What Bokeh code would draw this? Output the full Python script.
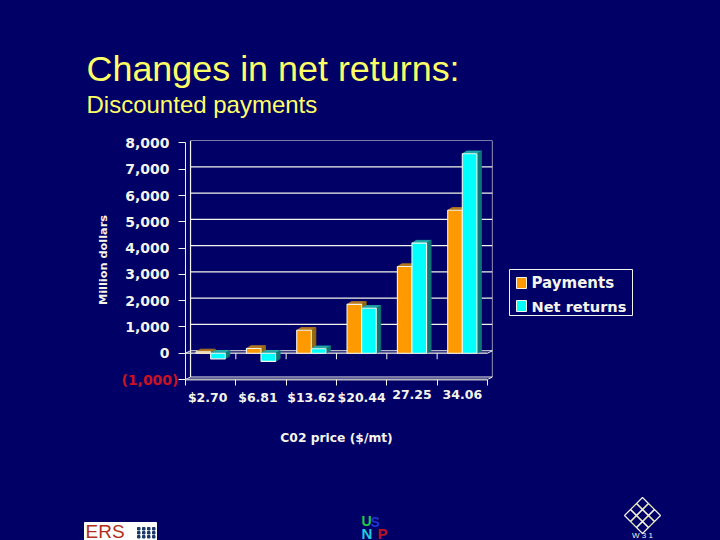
from bokeh.plotting import figure
from bokeh.core.properties import value
from bokeh.embed import file_html
from bokeh.resources import INLINE
from bokeh.models import Range1d, FixedTicker

categories = ["$2.70", "$6.81", "$13.62", "$20.44", "27.25", "34.06"]
payments = [50, 180, 875, 1860, 3300, 5440]
net_returns = [-215, -310, 170, 1710, 4190, 7590]
y_ticks = [-1000, 0, 1000, 2000, 3000, 4000, 5000, 6000, 7000, 8000]
y_labels = ["", "0", "1,000", "2,000", "3,000", "4,000", "5,000", "6,000", "7,000", "8,000"]

BG = "#000066"
ORANGE, ORANGE_TOP, ORANGE_SIDE = "#FF9900", "#B5781F", "#8F6A12"
CYAN, CYAN_TOP, CYAN_SIDE = "#00FFFF", "#1FA8A8", "#0F7575"
LINE = "#F4F4EC"
FONT = "DejaVu Sans"
TITLE_COL = "#FFFF66"

WALL_DX, WALL_DY = 0.1, 95     # depth of the chart box, in data units
BAR_DX, BAR_DY = 0.09, 105     # depth of a bar
BAR_W = 0.29
X_MAX, Y_MIN, Y_MAX = 6 + WALL_DX, -1000, 8000 + WALL_DY
F_L, F_R, F_T, F_B = 185, 492, 140, 379   # plot frame on the slide

p = figure(width=720, height=540, output_backend="svg", toolbar_location=None,
           x_range=Range1d(0, X_MAX), y_range=Range1d(Y_MIN, Y_MAX),
           min_border_left=F_L, min_border_right=720 - F_R, min_border_top=F_T, min_border_bottom=540 - F_B,
           background_fill_color=BG, border_fill_color=BG, outline_line_color=None)
p.grid.visible = False


def px(x):
    return (x - F_L) / (F_R - F_L) * X_MAX


def py(y):
    return Y_MAX - (y - F_T) / (F_B - F_T) * (Y_MAX - Y_MIN)


# Axes
ya = p.yaxis[0]
ya.ticker = FixedTicker(ticks=y_ticks)
ya.major_label_overrides = dict(zip(y_ticks, y_labels))
ya.bounds = (-1000, 8000)
ya.axis_label = "Million dollars"
ya.axis_label_text_font = FONT
ya.axis_label_text_font_style = "bold"
ya.axis_label_text_font_size = "11.3px"
ya.axis_label_text_color = LINE
ya.axis_label_standoff = 12
ya.major_label_text_font = FONT
ya.major_label_text_font_style = "bold"
ya.major_label_text_font_size = "14px"
ya.major_label_text_color = LINE
ya.major_label_standoff = 9
ya.major_tick_out = 7
ya.major_tick_in = 0
ya.minor_tick_line_color = None
ya.axis_line_color = LINE
ya.major_tick_line_color = LINE

xa = p.xaxis[0]
xa.ticker = FixedTicker(ticks=[0, 1, 2, 3, 4, 5, 6])
xa.major_label_text_font_size = "1px"
xa.major_label_text_color = None
xa.bounds = (0, 6)
xa.major_tick_out = 6
xa.major_tick_in = 0
xa.minor_tick_line_color = None
xa.axis_line_color = "#B8B8C0"
xa.axis_line_width = 2
xa.major_tick_line_color = LINE

# Box of the chart
g_x0 = [WALL_DX] * len(y_ticks)
g_x1 = [6 + WALL_DX] * len(y_ticks)
g_y = [t + WALL_DY for t in y_ticks]
p.segment(g_x0, g_y, g_x1, g_y, line_color=LINE, line_width=1.2)
p.segment([WALL_DX], [y_ticks[0] + WALL_DY], [WALL_DX], [y_ticks[-1] + WALL_DY], line_color=LINE, line_width=1.2)
p.segment([6 + WALL_DX], [y_ticks[0] + WALL_DY], [6 + WALL_DX], [y_ticks[-1] + WALL_DY], line_color=LINE, line_width=1.2)
p.segment([0, 6], [y_ticks[0], y_ticks[0]], [WALL_DX, 6 + WALL_DX], [y_ticks[0] + WALL_DY] * 2, line_color=LINE, line_width=1)
p.segment([0, 6], [0, 0], [WALL_DX, 6 + WALL_DX], [WALL_DY, WALL_DY], line_color=LINE, line_width=1)

# Zero line with its ticks
p.segment([0], [0], [6], [0], line_color=LINE, line_width=1.2)
p.segment([1, 2, 3, 4, 5], [0] * 5, [1, 2, 3, 4, 5], [-230] * 5, line_color=LINE, line_width=1)


def bars(values, offset, front, top, side):
    x0 = [i + 0.5 + offset for i in range(len(values))]
    x1 = [x + BAR_W for x in x0]
    hi = [max(v, 0) for v in values]
    lo = [min(v, 0) for v in values]
    p.patches([[a, b, b + BAR_DX, a + BAR_DX] for a, b in zip(x0, x1)],
              [[h, h, h + BAR_DY, h + BAR_DY] for h in hi],
              fill_color=top, line_color=top, line_width=0.8)
    p.patches([[b, b + BAR_DX, b + BAR_DX, b] for b in x1],
              [[h, h + BAR_DY, l + BAR_DY, l] for h, l in zip(hi, lo)],
              fill_color=side, line_color=side, line_width=0.8)
    return p.patches([[a, b, b, a] for a, b in zip(x0, x1)],
                     [[l, l, h, h] for l, h in zip(lo, hi)],
                     fill_color=front, line_color=LINE, line_width=1.1)


bars(payments, -BAR_W, ORANGE, ORANGE_TOP, ORANGE_SIDE)
bars(net_returns, 0, CYAN, CYAN_TOP, CYAN_SIDE)

# Category labels
p.text([i + 0.5 for i in range(6)], [-1000] * 6, text=categories, y_offset=10, x_offset=[-3, -3, 0, 0, 0, 0],
       text_align="center", text_baseline="top", text_color=LINE,
       text_font=value(FONT), text_font_style="bold", text_font_size="12.5px", level="overlay")

# Red label of the negative tick
p.text([0], [-1000], text=["(1,000)"], x_offset=-7, text_align="right", text_baseline="middle",
       text_color="#CC1122", text_font=value(FONT), text_font_style="bold", text_font_size="14px", level="overlay")


def text(x, y, s, size, color=LINE, style="normal", font="Liberation Sans", align="left"):
    p.text([px(x)], [py(y)], text=[s], text_color=color, text_font=value(font), text_font_size=size,
           text_font_style=style, text_align=align, text_baseline="middle", level="overlay")


def box(l, r, t, b, fill, line):
    p.quad(left=[px(l)], right=[px(r)], top=[py(t)], bottom=[py(b)], fill_color=fill, line_color=line, level="overlay")


# Legend
box(509, 632, 269, 315, BG, LINE)
box(516, 526, 277, 288, ORANGE, LINE)
box(516, 526, 300, 311, CYAN, LINE)
text(531, 282, "Payments", "15px", LINE, "bold", FONT)
text(531, 306, "Net returns", "14.6px", LINE, "bold", FONT)

# Titles
text(86, 68, "Changes in net returns:", "35.9px", TITLE_COL)
text(86, 104, "Discounted payments", "24px", TITLE_COL)
text(336, 437, "C02 price ($/mt)", "12.3px", LINE, "bold", FONT, "center")

# ERS logo
box(84, 156, 522, 540, "white", "white")
text(85, 531, "ERS", "19px", "#B03020")
for x in (137, 142, 147, 152):
    for y in (527, 531, 535):
        box(x, x + 2.5, y, y + 2.5, "#1A3A6A", "#1A3A6A")

# USDA NRCS logo
text(361, 520, "U", "14px", "#22CC44", "bold")
text(370, 521, "S", "14px", "#2233CC", "bold")
text(361, 533, "N", "15px", "#22CCDD", "bold")
text(377, 533, "P", "15px", "#BB1122", "bold")

# Knot logo
cx, cy = 642, 515
for i in range(3):
    for j in range(3):
        a, b = cx + (i - j) * 6, cy + (i + j - 2) * 6
        p.patch([px(a - 6), px(a), px(a + 6), px(a)], [py(b), py(b - 6), py(b), py(b + 6)],
                fill_alpha=0, line_color="#E8E8B0" if (i + j) % 2 else "#F4F4EC", line_width=1.2, level="overlay")
text(642, 535, "W 3 1", "8px", LINE, align="center")

html = file_html(p, INLINE).replace("</head>", "<style>html,body{background:#000066;margin:0 !important;overflow:hidden}</style></head>", 1)
open("out.html", "w").write(html)
